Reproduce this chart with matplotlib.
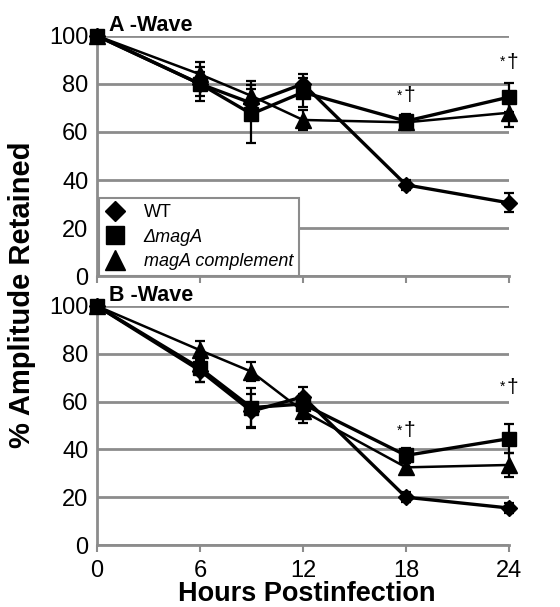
import numpy as np
import matplotlib.pyplot as plt
from matplotlib.lines import Line2D

plt.rcParams['font.family'] = ['Liberation Sans', 'DejaVu Sans']

hours = [0, 6, 9, 12, 18, 24]
xticks = [0, 6, 12, 18, 24]

# A-wave
a_wt = [100, 80, 72, 80, 38, 30.5]
a_wt_err = [0, 5, 6, 4, 2, 4]
a_mag = [100, 80, 67.5, 76.5, 64.5, 74.5]
a_mag_err = [0, 7, 12, 6, 3, 6]
a_comp = [100, 84, 75, 65, 64, 68]
a_comp_err = [0, 5, 6, 4, 3, 6]

# B-wave
b_wt = [100, 73, 56, 62, 20, 15.5]
b_wt_err = [0, 5, 7, 4, 2, 2]
b_mag = [100, 74, 57.5, 59, 37.5, 44.5]
b_mag_err = [0, 6, 8, 4, 3, 6]
b_comp = [100, 81.5, 72.5, 56, 32.5, 33.5]
b_comp_err = [0, 4, 4, 5, 2, 5]

a_marks = [(18, 75), (24, 89)]
b_marks = [(18, 48), (24, 66)]

labels = ['WT', 'ΔmagA', 'magA complement']
grey = '#8c8c8c'

fig = plt.figure(figsize=(5.6, 6.07), dpi=100)
ax1 = fig.add_axes([0.173, 0.545, 0.736, 0.396])
ax2 = fig.add_axes([0.173, 0.102, 0.736, 0.394])


def draw(ax, wt, wt_e, mag, mag_e, comp, comp_e, marks, title, show_x):
    kw = dict(color='black', capsize=3.5, elinewidth=1.6, capthick=1.6,
              clip_on=False)
    ax.errorbar(hours, wt, yerr=wt_e, marker='D', ms=8, lw=2.4, zorder=3, **kw)
    ax.errorbar(hours, mag, yerr=mag_e, marker='s', ms=10, lw=2.4, zorder=5, **kw)
    ax.errorbar(hours, comp, yerr=comp_e, marker='^', ms=11, lw=1.8, zorder=4, **kw)
    for x, y in marks:
        ax.text(x - 0.2, y, '*', fontsize=10, ha='right', va='center')
        ax.text(x - 0.15, y, '†', fontsize=15, ha='left', va='center')
    ax.set_xlim(0, 24)
    ax.set_ylim(0, 100)
    ax.set_yticks([0, 20, 40, 60, 80, 100])
    ax.set_xticks(xticks)
    ax.yaxis.grid(True, color=grey, lw=2)
    ax.set_axisbelow(True)
    for s in ['top', 'right']:
        ax.spines[s].set_visible(False)
    for s in ['left', 'bottom']:
        ax.spines[s].set_color(grey)
        ax.spines[s].set_linewidth(2)
    ax.tick_params(axis='y', length=0, labelsize=17, pad=6)
    ax.tick_params(axis='x', length=5, width=1.5, color=grey, labelsize=17, pad=6)
    if not show_x:
        ax.set_xticklabels([])
    ax.text(0.03, 1.0, title, transform=ax.transAxes, fontsize=15.5,
            fontweight='bold', va='bottom', ha='left')


draw(ax1, a_wt, a_wt_err, a_mag, a_mag_err, a_comp, a_comp_err,
     a_marks, 'A -Wave', False)
draw(ax2, b_wt, b_wt_err, b_mag, b_mag_err, b_comp, b_comp_err,
     b_marks, 'B -Wave', True)

handles = [Line2D([], [], ls='none', marker='D', ms=10, color='black'),
           Line2D([], [], ls='none', marker='s', ms=13, color='black'),
           Line2D([], [], ls='none', marker='^', ms=14, color='black')]
leg = ax1.legend(handles, labels, loc='lower left', bbox_to_anchor=(0.006, 0.0),
                 fancybox=False, edgecolor=grey, framealpha=1, fontsize=13,
                 handlelength=1.0, handletextpad=1.1, borderpad=0.35,
                 labelspacing=0.4, borderaxespad=0)
leg.get_frame().set_linewidth(1.5)
leg.get_texts()[1].set_style('italic')
leg.get_texts()[2].set_style('italic')

fig.text(0.039, 0.515, '% Amplitude Retained', rotation=90, fontsize=21,
         fontweight='bold', ha='center', va='center')
fig.text(0.548, 0.021, 'Hours Postinfection', fontsize=19.5,
         fontweight='bold', ha='center', va='center')

fig.savefig('out.png', dpi=100)
